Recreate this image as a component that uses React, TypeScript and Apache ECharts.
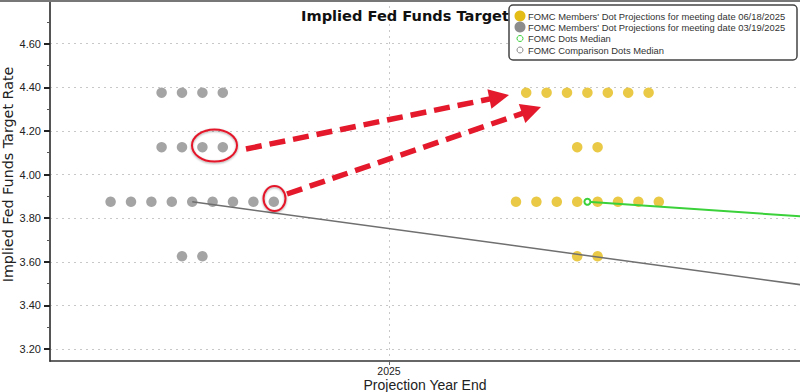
import React, { useEffect, useRef } from "react";
import * as echarts from "echarts";

// ---- data ----
const rateLevels = [4.375, 4.125, 3.875, 3.625];
const marchDotCounts = [4, 4, 9, 2]; // 03/19/2025 meeting, 2025 year-end dots
const juneDotCounts = [7, 2, 8, 2]; // 06/18/2025 meeting, 2025 year-end dots
const medianYears = [2025, 2026];
const marchMedians = [3.875, 3.375];
const juneMedians = [3.875, 3.625];
const yLabelTicks = [3.2, 3.4, 3.6, 3.8, 4.0, 4.2, 4.4, 4.6];
const yMinorTicks = [3.3, 3.5, 3.7, 3.9, 4.1, 4.3, 4.5, 4.7];
const xLabelTicks = [2025];
const seriesNames = [
  "FOMC Members' Dot Projections for meeting date 06/18/2025",
  "FOMC Members' Dot Projections for meeting date 03/19/2025",
  "FOMC Dots Median",
  "FOMC Comparison Dots Median",
];

// ---- layout of the dot rows (style, not data) ----
const MARCH_SHIFT = -0.246;
const JUNE_SHIFT = 0.248;
const DOT_STEP = 0.0255;

const YELLOW = "#E3BC16";
const GRAY = "#8D8D8D";
const GREEN = "#3AD13A";
const RED = "#E4192B";

function dotRows(counts: number[], shift: number) {
  const pts: number[][] = [];
  rateLevels.forEach((lvl, r) => {
    const n = counts[r];
    for (let i = 0; i < n; i++) {
      pts.push([2025 + shift + (i - (n - 1) / 2) * DOT_STEP, lvl]);
    }
  });
  return pts;
}

function medianLine(vals: number[], shift: number) {
  return medianYears.map((y, i) => [y + shift, vals[i]]);
}

function arrow(x1: number, y1: number, x2: number, y2: number) {
  const dx = x2 - x1;
  const dy = y2 - y1;
  const len = Math.sqrt(dx * dx + dy * dy);
  const ux = dx / len;
  const uy = dy / len;
  const L = 20;
  const W = 10;
  const bx = x2 - ux * L;
  const by = y2 - uy * L;
  const nx = -uy;
  const ny = ux;
  return [
    {
      type: "line",
      z: 50,
      shape: { x1, y1, x2: bx + ux * 2, y2: by + uy * 2 },
      style: { stroke: RED, lineWidth: 5.5, lineDash: [16, 8], lineCap: "butt" },
    },
    {
      type: "polygon",
      z: 50,
      shape: {
        points: [
          [x2, y2],
          [bx + nx * W, by + ny * W],
          [bx - nx * W, by - ny * W],
        ],
      },
      style: { fill: RED },
    },
  ];
}

export default function App() {
  const ref = useRef<HTMLDivElement>(null);

  useEffect(() => {
    if (!ref.current) return;
    const chart = echarts.init(ref.current, undefined, { renderer: "svg" });

    const legendX = 509;
    const legendRows = [16, 27, 38.5, 50];
    const legendGraphic: any[] = [
      {
        type: "rect",
        z: 100,
        shape: { x: legendX, y: 5, width: 288, height: 55, r: 4 },
        style: { fill: "#fff", stroke: "#444", lineWidth: 1.5 },
      },
      { type: "circle", z: 101, shape: { cx: 520, cy: legendRows[0], r: 5.5 }, style: { fill: YELLOW } },
      { type: "circle", z: 101, shape: { cx: 520, cy: legendRows[1], r: 5.5 }, style: { fill: GRAY } },
      { type: "circle", z: 101, shape: { cx: 520, cy: legendRows[2], r: 3 }, style: { fill: "#fff", stroke: GREEN, lineWidth: 1 } },
      { type: "circle", z: 101, shape: { cx: 520, cy: legendRows[3], r: 3 }, style: { fill: "#fff", stroke: "#888", lineWidth: 1 } },
      ...seriesNames.map((name, i) => ({
        type: "text",
        z: 101,
        x: 528,
        y: legendRows[i],
        style: {
          text: name,
          fill: "#333",
          font: "9.4px 'Liberation Sans'",
          verticalAlign: "middle",
          align: "left",
        },
      })),
    ];

    const annotations: any[] = [
      {
        type: "ellipse",
        z: 50,
        shape: { cx: 214.5, cy: 145.5, rx: 22.5, ry: 16 },
        style: { fill: "none", stroke: RED, lineWidth: 2, shadowBlur: 2, shadowColor: "rgba(0,0,0,0.35)", shadowOffsetY: 1 },
      },
      {
        type: "ellipse",
        z: 50,
        shape: { cx: 274.5, cy: 198.5, rx: 11, ry: 12.5 },
        style: { fill: "none", stroke: RED, lineWidth: 2, shadowBlur: 2, shadowColor: "rgba(0,0,0,0.35)", shadowOffsetY: 1 },
      },
      ...arrow(246, 149, 509, 95),
      ...arrow(287, 194, 541, 107),
      {
        type: "line",
        z: 40,
        shape: { x1: 0, y1: 1, x2: 800, y2: 1 },
        style: { stroke: "#777", lineWidth: 2 },
      },
    ];

    const option: any = {
      animation: false,
      backgroundColor: "#fff",
      title: {
        text: "Implied Fed Funds Target",
        left: 296,
        top: 3,
        z: 1,
        textStyle: {
          fontFamily: "DejaVu Sans",
          fontWeight: "bold",
          fontSize: 14.6,
          color: "#111",
        },
      },
      grid: {
        left: 50,
        right: 0,
        top: 0,
        bottom: 31,
        containLabel: false,
        outerBoundsMode: "none",
      },
      xAxis: {
        type: "value",
        min: 2024.57625,
        max: 2025.51375,
        name: "Projection Year End",
        nameLocation: "middle",
        nameGap: 16.5,
        nameMoveOverlap: false,
        nameTextStyle: { fontFamily: "Liberation Sans", fontSize: 14, color: "#222" },
        axisLine: { show: true, lineStyle: { color: "#333", width: 1.5 } },
        axisTick: { show: true, customValues: xLabelTicks, length: 4, inside: false, lineStyle: { color: "#666" } },
        axisLabel: {
          customValues: xLabelTicks,
          margin: 4,
          fontFamily: "Liberation Sans",
          fontSize: 10.5,
          color: "#222",
          formatter: (v: number) => String(Math.round(v)),
        },
        splitLine: { show: true, lineStyle: { color: "#c8c8c8", type: [2, 4], width: 1 } },
      },
      yAxis: [
        {
          type: "value",
          position: "left",
          min: 3.145,
          max: 4.8,
          name: "Implied Fed Funds Target Rate",
          nameLocation: "middle",
          nameGap: 35,
          nameRotate: 90,
          nameMoveOverlap: false,
          nameTextStyle: {
            fontFamily: "DejaVu Sans",
            fontSize: 14.3,
            color: "#222",
            padding: [0, 0, 0, 12],
          },
          axisLine: { show: true, lineStyle: { color: "#555", width: 2 } },
          axisTick: { show: true, customValues: yLabelTicks, length: 6, inside: false, lineStyle: { color: "#222", width: 2 } },
          axisLabel: {
            customValues: yLabelTicks,
            margin: 9,
            fontFamily: "Liberation Sans",
            fontSize: 11,
            color: "#222",
            formatter: (v: number) => v.toFixed(2),
          },
          splitLine: { show: true, lineStyle: { color: "#c8c8c8", type: [2, 4], width: 1 } },
        },
        {
          type: "value",
          position: "left",
          min: 3.145,
          max: 4.8,
          axisLine: { show: false },
          axisTick: { show: true, customValues: yMinorTicks, length: 3, inside: false, lineStyle: { color: "#555", width: 1 } },
          axisLabel: { show: false },
          splitLine: { show: false },
        },
      ],
      series: [
        {
          name: seriesNames[1],
          type: "scatter",
          data: dotRows(marchDotCounts, MARCH_SHIFT),
          symbol: "circle",
          symbolSize: 10.5,
          itemStyle: { color: GRAY },
          z: 2,
        },
        {
          name: seriesNames[0],
          type: "scatter",
          data: dotRows(juneDotCounts, JUNE_SHIFT),
          symbol: "circle",
          symbolSize: 10.5,
          itemStyle: { color: YELLOW },
          z: 2,
        },
        {
          name: seriesNames[3],
          type: "line",
          data: medianLine(marchMedians, MARCH_SHIFT),
          symbol: "none",
          lineStyle: { color: "#6f6f6f", width: 1.5 },
          clip: true,
          z: 3,
        },
        {
          name: seriesNames[2],
          type: "line",
          data: medianLine(juneMedians, JUNE_SHIFT),
          symbol: "emptyCircle",
          symbolSize: 6,
          itemStyle: { color: GREEN, borderColor: GREEN, borderWidth: 1 },
          lineStyle: { color: GREEN, width: 2 },
          clip: true,
          z: 3,
        },
      ],
      graphic: [...annotations, ...legendGraphic],
    };

    chart.setOption(option);
    return () => chart.dispose();
  }, []);

  return (
    <div
      ref={ref}
      style={{ position: "fixed", left: 0, top: 0, width: 800, height: 392 }}
    />
  );
}
